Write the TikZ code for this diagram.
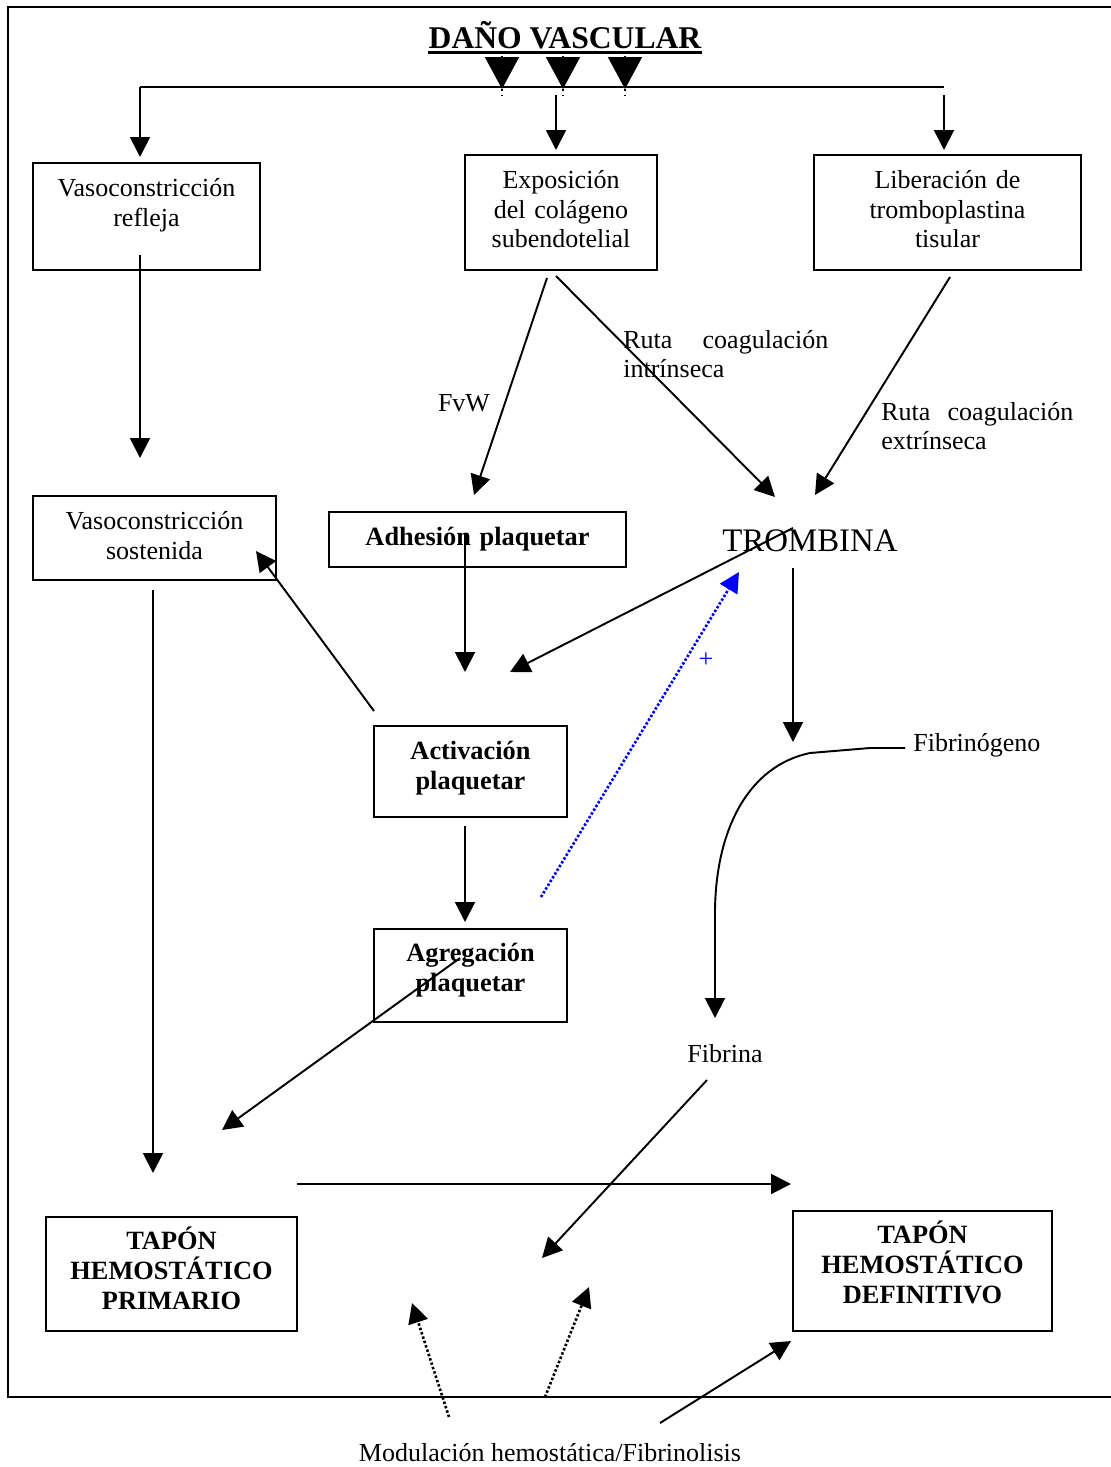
\documentclass[tikz,border=0pt]{standalone}
\usepackage{fontspec}
\setmainfont{Liberation Serif}
\usetikzlibrary{arrows.meta}

\begin{document}
\begin{tikzpicture}[x=0.02cm, y=-0.02cm,
  font=\fontsize{14.8}{16.8}\selectfont,
  negrita/.style={font=\fontsize{15}{16.8}\selectfont\bfseries},
  caja/.style={draw, line width=1.1pt, inner sep=0pt, align=center, anchor=north},
  rotulo/.style={inner sep=0pt},
  flecha/.style={line width=1.1pt, -{Triangle[width=0.4cm, length=0.4cm]}},
  punteada/.style={flecha, line width=1.5pt, dash pattern=on 1.4pt off 1.2pt}]
  \useasboundingbox (0,0) rectangle (1111,1467);
  \draw[line width=1.1pt] (1111,7) -- (8,7) -- (8,1397) -- (1111,1397);

  \node[rotulo, anchor=base, font=\fontsize{18}{20}\selectfont\bfseries] (titulo) at (565,48) {DAÑO VASCULAR};
  \draw[line width=1.2pt] ([yshift=-0.09cm]titulo.base west) -- ([yshift=-0.09cm]titulo.base east);

  \node[caja, text width=4.54cm, text height=0.68cm, text depth=1.46cm] (refleja) at (146.5,162) {Vasoconstricción\\refleja};
  \node[caja, text width=3.84cm, text height=0.68cm, text depth=1.62cm] (expo) at (561,154) {Exposición\\del colágeno\\subendotelial};
  \node[caja, text width=5.34cm, text height=0.68cm, text depth=1.62cm] (libera) at (947.5,154) {Liberación de\\tromboplastina\\tisular};
  \node[caja, text width=4.86cm, text height=0.68cm, text depth=1.0cm] (sostenida) at (154.5,495) {Vasoconstricción\\sostenida};
  \node[caja, negrita, text width=5.94cm, text height=0.68cm, text depth=0.42cm] (adhesion) at (477.5,511) {Adhesión plaquetar};
  \node[caja, negrita, text width=3.86cm, text height=0.68cm, text depth=1.14cm] (activa) at (470.5,725) {Activación\\plaquetar};
  \node[caja, negrita, text width=3.86cm, text height=0.66cm, text depth=1.2cm] (agrega) at (470.5,928) {Agregación\\plaquetar};
  \node[caja, negrita, text width=5.02cm, text height=0.66cm, text depth=1.62cm] (primario) at (171.5,1216) {TAPÓN\\HEMOSTÁTICO\\PRIMARIO};
  \node[caja, negrita, text width=5.18cm, text height=0.66cm, text depth=1.74cm] (definitivo) at (922.5,1210) {TAPÓN\\HEMOSTÁTICO\\DEFINITIVO};

  \node[rotulo] (fvw) at (464,403) {FvW};
  \node[rotulo, anchor=base west, text width=4.1cm, align=left] (intrinseca) at (623,348) {Ruta\hfill coagulación\\intrínseca};
  \node[rotulo, anchor=base west, text width=3.84cm, align=left] (extrinseca) at (881,420) {Ruta\hfill coagulación\\extrínseca};
  \node[rotulo, anchor=base, font=\fontsize{18.7}{22}\selectfont] (trombina) at (810,551) {TROMBINA};
  \node[rotulo, anchor=base west] (fibrinogeno) at (913,751) {Fibrinógeno};
  \node[rotulo, anchor=base] (fibrina) at (725,1062) {Fibrina};
  \node[rotulo, text=blue] (mas) at (706,660) {+};
  \node[rotulo, anchor=base] (modulacion) at (550,1461) {Modulación hemostática/Fibrinolisis};

  \foreach \x [count=\i] in {502,563,625} {
    \coordinate (d\i) at (\x,56);
    \coordinate (e\i) at (\x,89);
    \draw[line width=1.1pt, -{Triangle[width=0.68cm, length=0.64cm]}] (d\i) -- (e\i);
    \draw[dotted, line width=1.2pt] (e\i) -- ++(0,6);
  }

  \coordinate (ramaI) at (140,87);
  \coordinate (ramaD) at (944,87);
  \coordinate (a1) at (140,157);
  \coordinate (b0) at (556,95);
  \coordinate (b1) at (556,150);
  \coordinate (c0) at (944,95);
  \coordinate (c1) at (944,150);
  \coordinate (refS) at (140,255);
  \coordinate (refF) at (140,458);
  \coordinate (fvwS) at (547,278);
  \coordinate (fvwF) at (474,495);
  \coordinate (intS) at (556,276);
  \coordinate (intF) at (775,497);
  \coordinate (extS) at (950,277);
  \coordinate (extF) at (815,495);
  \coordinate (adhS) at (465,533);
  \coordinate (adhF) at (465,672);
  \coordinate (trA) at (793,528);
  \coordinate (trF) at (510,672);
  \coordinate (trB) at (793,568);
  \coordinate (fgF) at (793,742);
  \coordinate (actS) at (374,711);
  \coordinate (sosF) at (256,551);
  \coordinate (actB) at (465,826);
  \coordinate (agrF) at (465,922);
  \coordinate (agrS) at (460,958);
  \coordinate (priF) at (222,1130);
  \coordinate (sosS) at (153,590);
  \coordinate (sosB) at (153,1173);
  \coordinate (fgS) at (905,748);
  \coordinate (fbF) at (715,1018);
  \coordinate (fbS) at (707,1080);
  \coordinate (fbT) at (542,1258);
  \coordinate (priS) at (297,1184);
  \coordinate (defF) at (791,1184);
  \coordinate (azS) at (541,897);
  \coordinate (azF) at (739,572);
  \coordinate (m1S) at (449,1417);
  \coordinate (m1F) at (412,1303);
  \coordinate (m2S) at (545,1397);
  \coordinate (m2F) at (589,1287);
  \coordinate (m3S) at (660,1423);
  \coordinate (m3F) at (791,1341);

  \draw[line width=1.1pt] (ramaI) -- (ramaD);
  \draw[flecha] (ramaI) -- (a1);
  \draw[flecha] (b0) -- (b1);
  \draw[flecha] (c0) -- (c1);
  \draw[flecha] (refS) -- (refF);
  \draw[flecha] (fvwS) -- (fvwF);
  \draw[flecha] (intS) -- (intF);
  \draw[flecha] (extS) -- (extF);
  \draw[flecha] (adhS) -- (adhF);
  \draw[flecha] (trA) -- (trF);
  \draw[flecha] (trB) -- (fgF);
  \draw[flecha] (actS) -- (sosF);
  \draw[flecha] (actB) -- (agrF);
  \draw[flecha] (agrS) -- (priF);
  \draw[flecha] (sosS) -- (sosB);
  \draw[flecha] (fgS) -- (870,748) -- (810,753) .. controls (748,766) and (716,830) .. (715,910) -- (fbF);
  \draw[flecha] (fbS) -- (fbT);
  \draw[flecha] (priS) -- (defF);
  \draw[flecha, blue, line width=1.5pt, dash pattern=on 1.4pt off 1.1pt] (azS) -- (azF);
  \draw[punteada] (m1S) -- (m1F);
  \draw[punteada] (m2S) -- (m2F);
  \draw[flecha] (m3S) -- (m3F);
\end{tikzpicture}
\end{document}
